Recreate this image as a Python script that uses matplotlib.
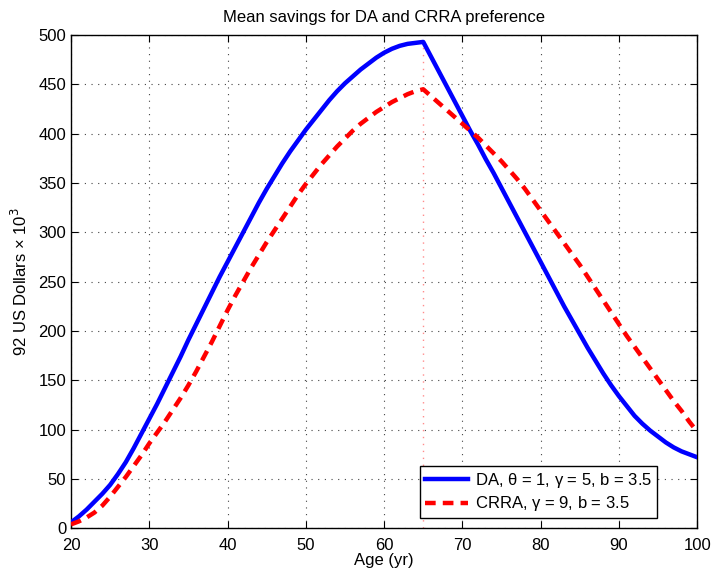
import matplotlib
matplotlib.use("Agg")
import matplotlib.pyplot as plt

plt.rcParams['font.family'] = ['Liberation Sans', 'DejaVu Sans']

# Age in years, one value per year
ages = list(range(20, 101))

# Mean savings (thousands of 1992 US dollars)
savings_da = [6, 12, 19, 27, 35, 44, 55, 67, 81, 96,
              111, 126, 142, 158, 174, 191, 207, 223, 239, 255,
              270, 285, 300, 315, 330, 344, 357, 370, 382, 393,
              404, 414, 424, 434, 443, 451, 458, 465, 471, 477,
              482, 486, 489, 491, 492, 493, 478, 463, 448, 433,
              418, 403, 389, 374, 360, 345, 330, 315, 300, 285,
              270, 255, 240, 225, 211, 197, 183, 170, 157, 145,
              134, 124, 114, 106, 99, 93, 87, 82, 78, 75,
              72]

savings_crra = [4, 7, 11, 16, 23, 32, 42, 52, 63, 74,
                86, 97, 108, 120, 132, 145, 159, 174, 189, 205,
                221, 236, 250, 264, 277, 290, 302, 314, 326, 338,
                349, 359, 369, 378, 387, 395, 403, 410, 416, 422,
                427, 432, 436, 440, 443, 445, 438, 431, 424, 417,
                410, 403, 396, 388, 380, 372, 363, 354, 344, 333,
                322, 311, 300, 289, 278, 267, 255, 243, 231, 219,
                207, 195, 184, 173, 162, 151, 140, 129, 119, 108,
                98]

retire_age = 65

label_da = r'DA, $\mathregular{\theta}$ = 1, $\mathregular{\gamma}$ = 5, b = 3.5'
label_crra = r'CRRA, $\mathregular{\gamma}$ = 9, b = 3.5'

fig = plt.figure(figsize=(7.12, 5.69), dpi=100)
ax = fig.add_axes([0.0997, 0.0715, 0.8795, 0.867])

ax.axvline(retire_age, color=(1.0, 0.55, 0.55), linestyle=(0, (1, 4)), linewidth=1.0, zorder=1)
ax.plot(ages, savings_da, color='#0000ff', linewidth=3.2, label=label_da, zorder=3)
ax.plot(ages, savings_crra, color='#ff0000', linewidth=3.2, linestyle=(0, (2.4, 1.6)),
        label=label_crra, zorder=3)

ax.set_xlim(20, 100)
ax.set_ylim(0, 500)
ax.set_xticks(range(20, 101, 10))
ax.set_yticks(range(0, 501, 50))
ax.grid(True, color='#444444', linestyle=(0, (1, 5)), linewidth=0.8)
ax.tick_params(direction='in', top=True, right=True, labelsize=12, length=5, width=0.8)
ax.tick_params(axis='x', pad=7)
for s in ax.spines.values():
    s.set_linewidth(1.0)

ax.set_title('Mean savings for DA and CRRA preference', fontsize=12, pad=9)
ax.set_xlabel('Age (yr)', fontsize=12, labelpad=0)
ax.set_ylabel('92 US Dollars \u00d7 10$^{3}$', fontsize=12, labelpad=6)

leg = ax.legend(loc='lower right', bbox_to_anchor=(0.936, 0.02), fontsize=12,
                fancybox=False, edgecolor='black', framealpha=1, borderaxespad=0,
                handlelength=2.6, handletextpad=0.4, borderpad=0.3, labelspacing=0.25)
leg.get_frame().set_linewidth(1.0)

fig.savefig('out.png', dpi=100)
